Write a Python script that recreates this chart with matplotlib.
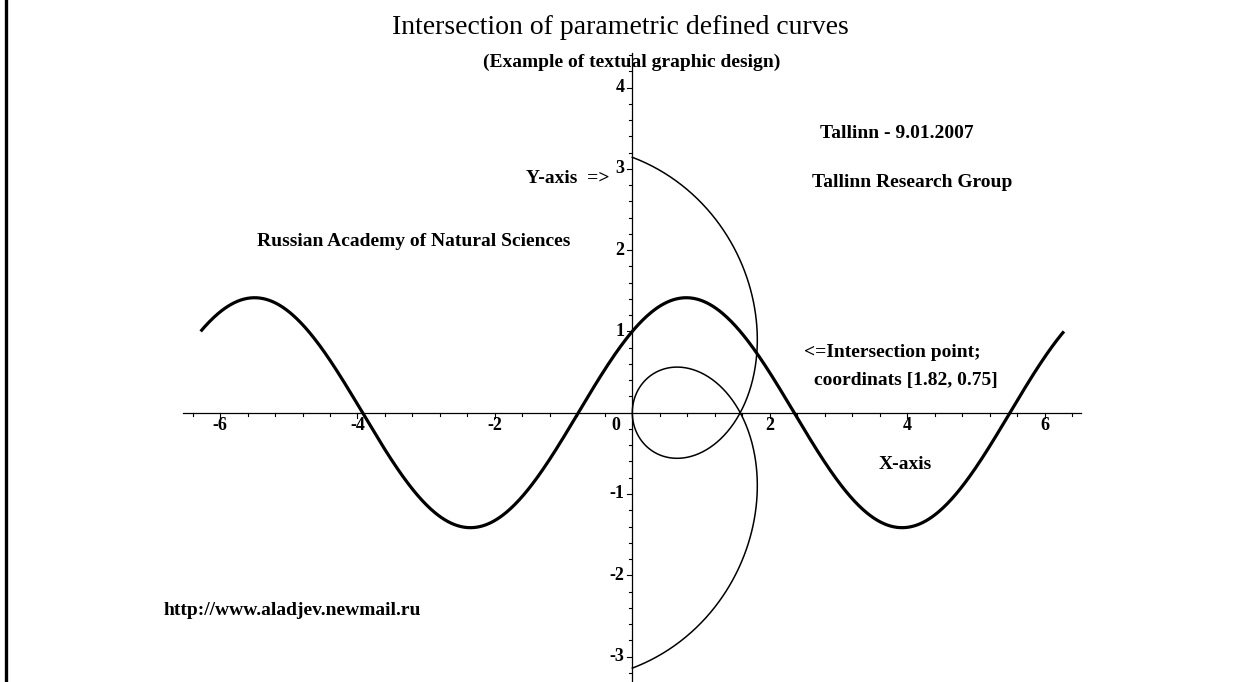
import numpy as np
import matplotlib
matplotlib.use("Agg")
import matplotlib.pyplot as plt
from matplotlib.lines import Line2D

# ---- data ----
title = "Intersection of parametric defined curves"
subtitle = "(Example of textual graphic design)"
x_range = (-2 * np.pi, 2 * np.pi)      # explicit curve y = sin(x) + cos(x)
t_range = (-np.pi, np.pi)              # parametric curve [t*sin(t), t*cos(t)]
x_major = [-6, -4, -2, 0, 2, 4, 6]
y_major = [-3, -2, -1, 1, 2, 3, 4]
x_minor_step = 0.4
y_minor_step = 0.2
annotations = [
    ("Tallinn - 9.01.2007", 3.85, 3.43),
    ("Tallinn Research Group", 4.07, 2.83),
    ("Russian Academy of Natural Sciences", -3.18, 2.10),
    ("<=Intersection point;", 3.79, 0.745),
    ("coordinats [1.82, 0.75]", 3.98, 0.39),
    ("X-axis", 3.98, -0.643),
    ("http://www.aladjev.newmail.ru", -4.95, -2.43),
]
yaxis_note = ("Y-axis  =>", -0.33, 2.88)

# ---- figure ----
W, H, DPI = 1236, 682, 100
fig = plt.figure(figsize=(W / DPI, H / DPI), dpi=DPI, facecolor="white")
ax = fig.add_axes([0, 0, 1, 1])
ax.set_facecolor("white")

x0p, y0p = 632.3, 412.7     # pixel of origin
sx, sy = 68.7, 81.3          # pixels per unit
ax.set_xlim(-x0p / sx, (W - x0p) / sx)
ax.set_ylim((y0p - H) / sy, y0p / sy)

serif = ["Liberation Serif", "DejaVu Serif"]

# curves
xs = np.linspace(x_range[0], x_range[1], 800)
ax.plot(xs, np.sin(xs) + np.cos(xs), color="black", lw=2.3, solid_capstyle="butt")
ts = np.linspace(t_range[0], t_range[1], 800)
ax.plot(ts * np.sin(ts), ts * np.cos(ts), color="black", lw=1.1)

# axes lines
x_ax_lo, x_ax_hi = (183 - x0p) / sx, (1081 - x0p) / sx
y_ax_hi = (y0p - 53) / sy
y_ax_lo = (y0p - H) / sy
ax.plot([x_ax_lo, x_ax_hi], [0, 0], color="black", lw=0.9)
ax.plot([0, 0], [y_ax_lo, y_ax_hi], color="black", lw=0.9)

def px2x(p):
    return p / sx
def px2y(p):
    return p / sy

xm = np.arange(-16, 17) * x_minor_step
for v in xm:
    if x_ax_lo <= v <= x_ax_hi:
        major = any(abs(v - m) < 1e-6 for m in x_major)
        L = 5 if major else 3
        ax.plot([v, v], [0, -px2y(L)], color="black", lw=0.8)
ym = np.arange(-16, 23) * y_minor_step
for v in ym:
    if y_ax_lo <= v <= y_ax_hi and abs(v) > 1e-6:
        major = any(abs(v - m) < 1e-6 for m in y_major)
        L = 5 if major else 3
        ax.plot([0, -px2x(L)], [v, v], color="black", lw=0.8)

tick_font = dict(family=serif, weight="bold", size=13, color="black")
for v in x_major:
    if v == 0:
        ax.text(-px2x(16), -px2y(4), "0", ha="center", va="top", **tick_font)
    else:
        ax.text(v, -px2y(4), f"{v}", ha="center", va="top", **tick_font)
for v in y_major:
    ax.text(-px2x(8), v, f"{v}", ha="right", va="center", **tick_font)

# titles
fig.text(620.5 / W, 1 - 28 / H, title, ha="center", va="center",
         family=serif, size=20, color="black")
fig.text(631.5 / W, 1 - 62 / H, subtitle, ha="center", va="center",
         family=serif, weight="bold", size=14, color="black")

# annotations
for s, x, y in annotations:
    ax.text(x, y, s, ha="center", va="center", family=serif, weight="bold",
            size=14, color="black")
ax.text(yaxis_note[1], yaxis_note[2], yaxis_note[0], ha="right", va="center",
        family=serif, weight="bold", size=14, color="black")

# left border bar
fig.add_artist(Line2D([5.5 / W, 5.5 / W], [0, 1], color="black", lw=2.4,
                      transform=fig.transFigure))

ax.axis("off")
fig.savefig("out.png", dpi=DPI, facecolor="white")
